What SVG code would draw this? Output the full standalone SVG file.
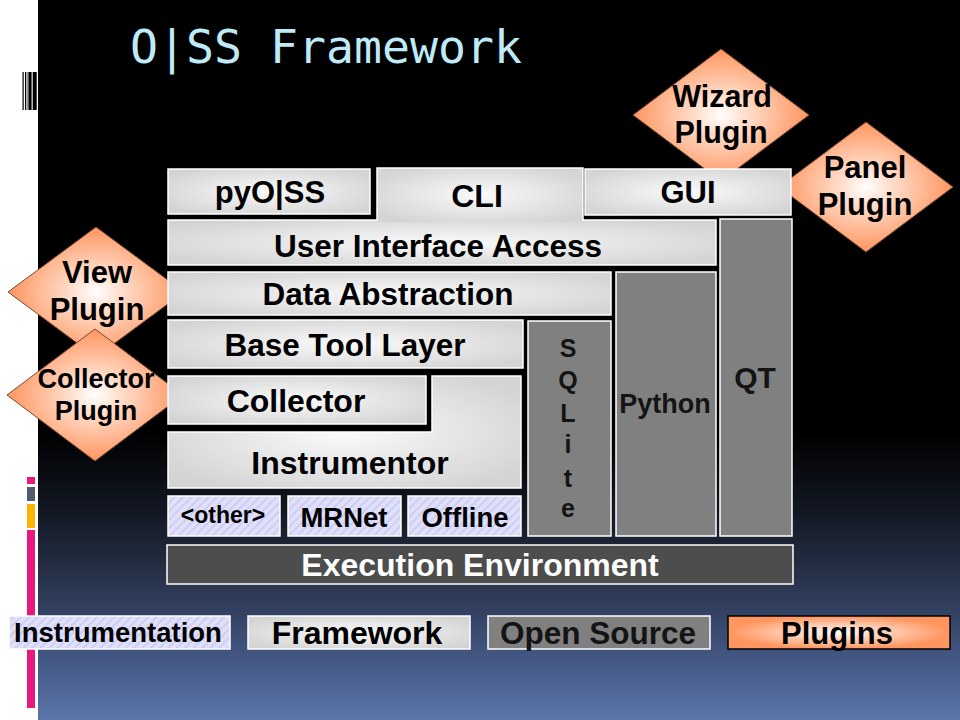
<svg xmlns="http://www.w3.org/2000/svg" width="960" height="720" viewBox="0 0 960 720">
<defs>
  <linearGradient id="bg" x1="0" y1="0" x2="0" y2="720" gradientUnits="userSpaceOnUse">
    <stop offset="0" stop-color="#000000"/>
    <stop offset="0.6" stop-color="#000000"/>
    <stop offset="0.72" stop-color="#141a26"/>
    <stop offset="0.83" stop-color="#2e3b58"/>
    <stop offset="0.94" stop-color="#4a6090"/>
    <stop offset="1" stop-color="#5a76a8"/>
  </linearGradient>
  <radialGradient id="light" cx="0.5" cy="0.5" r="0.6">
    <stop offset="0" stop-color="#fafafa"/>
    <stop offset="1" stop-color="#d4d4d4"/>
  </radialGradient>
  <radialGradient id="orange" cx="0.5" cy="0.5" r="0.5">
    <stop offset="0" stop-color="#ffffff"/>
    <stop offset="0.25" stop-color="#ffe2d2"/>
    <stop offset="1" stop-color="#ff955f"/>
  </radialGradient>
  <pattern id="hatch" width="6" height="6" patternUnits="userSpaceOnUse" patternTransform="rotate(45)">
    <rect width="6" height="6" fill="#e0e0fb"/>
    <rect width="2" height="6" fill="#ceceF3"/>
  </pattern>
  <style>
    .lt { fill: url(#light); stroke: #ffffff; stroke-width: 1.5; }
    .gr { fill: #808080; stroke: #ffffff; stroke-width: 1.5; }
    .hx { fill: url(#hatch); stroke: #ffffff; stroke-width: 1.5; }
    .dm { fill: url(#orange); stroke: #7a4a30; stroke-width: 1; }
    text { font-family: "Liberation Sans", Arial, sans-serif; font-weight: bold; text-anchor: middle; fill: #000000; }
    .w { fill: #ffffff; }
    .d { fill: #141414; }
  </style>
</defs>

<!-- background -->
<rect x="0" y="0" width="960" height="720" fill="url(#bg)"/>
<rect x="0" y="0" width="38" height="720" fill="#ffffff"/>
<g id="barcode" fill="#000000">
  <rect x="22.5" y="72" width="1.2" height="38"/>
  <rect x="25" y="72" width="1.3" height="38"/>
  <rect x="27.6" y="72" width="1" height="38"/>
  <rect x="29" y="72" width="2.6" height="38"/>
  <rect x="32.7" y="72" width="4" height="38"/>
</g>
<g id="sidebars">
  <rect x="27" y="477" width="8" height="7" fill="#e8197e"/>
  <rect x="27" y="487" width="8" height="14" fill="#4f5b6e"/>
  <rect x="27" y="504" width="8" height="24" fill="#ffb300"/>
  <rect x="27" y="530" width="8" height="178" fill="#e8197e"/>
</g>

<text x="130" y="63" style="font-family: 'DejaVu Sans Mono', 'Liberation Mono', monospace; font-weight: normal; text-anchor: start; font-size: 46.5px; fill: #bfeaf8;">O|SS Framework</text>

<!-- plugin diamonds (behind the stack) -->
<g id="wizard-plugin">
  <polygon class="dm" points="721,49 809,115 721,181 633,115"/>
  <text x="722" y="107" font-size="30.5">Wizard</text>
  <text x="721" y="143" font-size="30.5">Plugin</text>
</g>
<g id="panel-plugin">
  <polygon class="dm" points="866,122 953,187 866,252 779,187"/>
  <text x="865" y="178" font-size="31">Panel</text>
  <text x="865" y="215" font-size="31">Plugin</text>
</g>
<g id="view-plugin">
  <polygon class="dm" points="96,227 184,292 96,357 8,292"/>
  <text x="97" y="283" font-size="31">View</text>
  <text x="97" y="320" font-size="31">Plugin</text>
</g>
<g id="collector-plugin">
  <polygon class="dm" points="95,329 183,395 95,461 7,395"/>
  <text x="96" y="388" font-size="27">Collector</text>
  <text x="96" y="420" font-size="27">Plugin</text>
</g>

<!-- stack -->
<g id="pyoss">
  <rect class="lt" x="168" y="169" width="202" height="45"/>
  <text x="270" y="203" font-size="31">pyO|SS</text>
</g>
<g id="gui">
  <rect class="lt" x="585" y="169" width="206" height="46"/>
  <text x="688" y="203" font-size="31">GUI</text>
</g>
<g id="user-interface-access">
  <rect class="lt" x="168" y="220" width="548" height="45"/>
  <text x="438" y="257" font-size="31.5">User Interface Access</text>
</g>
<g id="cli">
  <rect x="377" y="168" width="206" height="54" fill="url(#light)"/>
  <path d="M377,221 V168 H583 V221" fill="none" stroke="#ffffff" stroke-width="1.5"/>
  <text x="477" y="207" font-size="32">CLI</text>
</g>
<g id="qt">
  <rect class="gr" x="720" y="219" width="72" height="317"/>
  <text class="d" x="755" y="388" font-size="30">QT</text>
</g>
<g id="data-abstraction">
  <rect class="lt" x="168" y="272" width="443" height="43"/>
  <text x="388" y="305" font-size="31.5">Data Abstraction</text>
</g>
<g id="python">
  <rect class="gr" x="616" y="272" width="100" height="264"/>
  <text class="d" x="665" y="413" font-size="27">Python</text>
</g>
<g id="base-tool-layer">
  <rect class="lt" x="168" y="320" width="355" height="48"/>
  <text x="345" y="356" font-size="31.5">Base Tool Layer</text>
</g>
<g id="sqlite">
  <rect class="gr" x="528" y="321" width="83" height="215"/>
  <g font-size="25">
    <text class="d" x="568" y="357">S</text>
    <text class="d" x="568" y="389">Q</text>
    <text class="d" x="568" y="422">L</text>
    <text class="d" x="568" y="453">i</text>
    <text class="d" x="568" y="487">t</text>
    <text class="d" x="568" y="517">e</text>
  </g>
</g>
<g id="collector">
  <rect class="lt" x="168" y="376" width="258" height="48"/>
  <text x="296" y="412" font-size="32">Collector</text>
</g>
<g id="instrumentor">
  <path class="lt" d="M168,432 H432 V376 H521 V488 H168 Z"/>
  <text x="350" y="474" font-size="32">Instrumentor</text>
</g>
<g id="other">
  <rect class="hx" x="168" y="496" width="112" height="40"/>
  <text x="223" y="523" font-size="23">&lt;other&gt;</text>
</g>
<g id="mrnet">
  <rect class="hx" x="288" y="496" width="113" height="40"/>
  <text x="344" y="527" font-size="27.5">MRNet</text>
</g>
<g id="offline">
  <rect class="hx" x="408" y="496" width="113" height="40"/>
  <text x="465" y="527" font-size="27.5">Offline</text>
</g>
<g id="execution-environment">
  <rect x="167" y="545" width="626" height="39" fill="#4d4d4d" stroke="#ffffff" stroke-width="1.5"/>
  <text class="w" x="480" y="576" font-size="32">Execution Environment</text>
</g>

<g id="connectors"/>

<!-- legend -->
<g id="legend-instrumentation">
  <rect class="hx" x="9" y="616" width="221" height="33"/>
  <text x="118" y="642" font-size="27.5">Instrumentation</text>
</g>
<g id="legend-framework">
  <rect class="lt" x="248" y="616" width="222" height="33"/>
  <text x="357" y="644" font-size="32">Framework</text>
</g>
<g id="legend-open-source">
  <rect class="gr" x="488" y="616" width="222" height="33"/>
  <text class="d" x="598" y="644" font-size="31.5">Open Source</text>
</g>
<g id="legend-plugins">
  <rect x="728" y="616" width="222" height="33" fill="url(#orange)" stroke="#000000" stroke-width="1.5"/>
  <text x="837" y="644" font-size="31">Plugins</text>
</g>
</svg>
